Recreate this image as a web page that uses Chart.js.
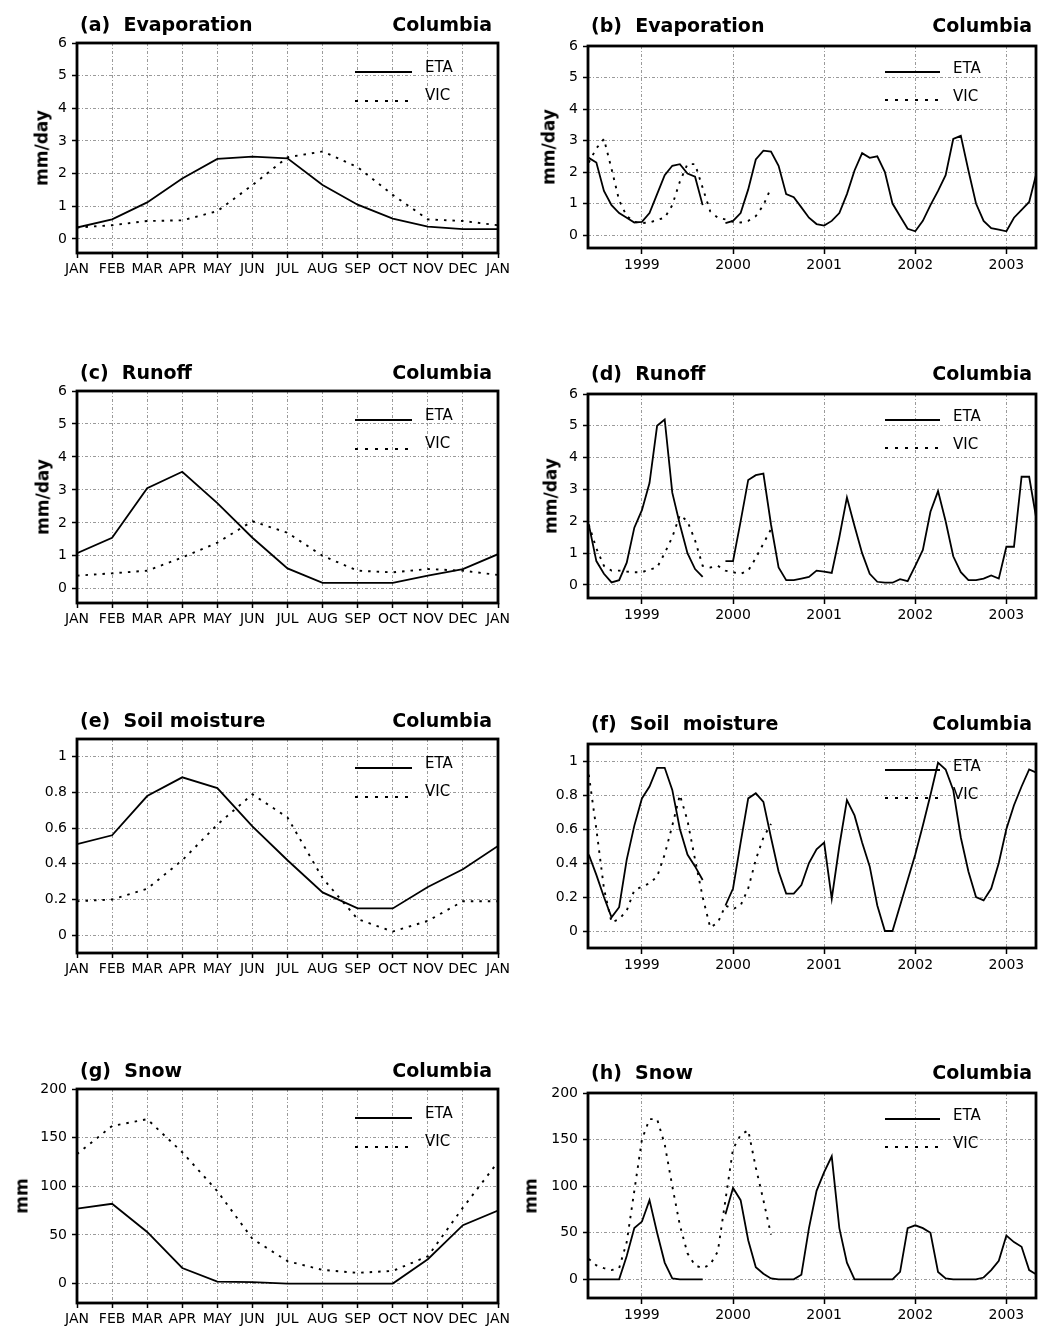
<!DOCTYPE html>
<html>
<head>
<meta charset="utf-8">
<script src="https://cdn.jsdelivr.net/npm/chart.js@4.4.1/dist/chart.umd.min.js"></script>
<style>
  html, body { margin: 0; padding: 0; background: #fff; overflow: hidden; }
  #page { position: relative; width: 1039px; height: 1330px; }
  canvas { position: absolute; }
  .ttl { position: absolute; font: bold 19px "DejaVu Sans", sans-serif; white-space: pre; line-height: 1; color: #000; }
  .unit { position: absolute; font: bold 17px "DejaVu Sans", sans-serif; white-space: pre; line-height: 1; color: #000;
          transform: translate(-50%, -50%) rotate(-90deg); }
  .leg { position: absolute; font: 15px "DejaVu Sans", sans-serif; line-height: 1; color: #000; transform: translateY(-50%); }
  .solid { position: absolute; height: 2px; background: #000; }
  .dots { position: absolute; height: 2px; background: repeating-linear-gradient(to right, #000 0 3px, transparent 3px 10px); }
</style>
</head>
<body>
<div id="page"></div>
<script>
// ---- axis labels ----
const months = ["JAN", "FEB", "MAR", "APR", "MAY", "JUN", "JUL", "AUG", "SEP", "OCT", "NOV", "DEC", "JAN"];
const monthPos = [0, 1, 2, 3, 4, 5, 6, 7, 8, 9, 10, 11, 12];
const years = ["1999", "2000", "2001", "2002", "2003"];
const yearPos = [0, 12, 24, 36, 48]; // months since Jan 1999

// monthly time series, Jun 1998 .. May 2003 (months since Jan 1999)
const seriesMonths = [
  -7, -6, -5, -4, -3, -2, -1, 0, 1, 2, 3, 4,
  5, 6, 7, 8, 9, 10, 11, 12, 13, 14, 15, 16,
  17, 18, 19, 20, 21, 22, 23, 24, 25, 26, 27, 28,
  29, 30, 31, 32, 33, 34, 35, 36, 37, 38, 39, 40,
  41, 42, 43, 44, 45, 46, 47, 48, 49, 50, 51, 52
];

const flowTicks = [0, 1, 2, 3, 4, 5, 6];
const flowLabels = ["0", "1", "2", "3", "4", "5", "6"];
const soilTicks = [0, 0.2, 0.4, 0.6, 0.8, 1];
const soilLabels = ["0", "0.2", "0.4", "0.6", "0.8", "1"];
const snowTicks = [0, 50, 100, 150, 200];
const snowLabels = ["0", "50", "100", "150", "200"];

// ---- mean annual cycle (JAN..JAN) ----
const evapEtaClim = [0.35, 0.6, 1.12, 1.85, 2.45, 2.52, 2.47, 1.65, 1.05, 0.62, 0.38, 0.3, 0.3];
const evapVicClim = [0.35, 0.42, 0.55, 0.57, 0.85, 1.65, 2.5, 2.68, 2.2, 1.35, 0.6, 0.55, 0.42];
const runoffEtaClim = [1.08, 1.55, 3.05, 3.55, 2.6, 1.55, 0.62, 0.18, 0.18, 0.18, 0.4, 0.6, 1.05];
const runoffVicClim = [0.4, 0.47, 0.55, 0.95, 1.4, 2.05, 1.7, 1.0, 0.55, 0.5, 0.6, 0.55, 0.42];
const soilEtaClim = [0.51, 0.56, 0.78, 0.885, 0.825, 0.61, 0.42, 0.24, 0.15, 0.15, 0.27, 0.37, 0.5];
const soilVicClim = [0.19, 0.2, 0.26, 0.42, 0.62, 0.79, 0.66, 0.32, 0.09, 0.02, 0.08, 0.19, 0.19];
const snowEtaClim = [77, 82, 53, 16, 2, 1.5, 0, 0, 0, 0, 25, 60, 75];
const snowVicClim = [133, 162, 169, 135, 95, 46, 23, 14, 11, 13, 28, 78, 125];

// ---- monthly series (ETA has a gap in autumn 1999, VIC stops mid 2000) ----
const evapEta = [
  2.45, 2.3, 1.4, 0.95, 0.7, 0.55, 0.4, 0.42, 0.7, 1.3, 1.9, 2.2,
  2.25, 1.95, 1.85, 0.95, null, null, 0.38, 0.45, 0.7, 1.45, 2.4, 2.68,
  2.65, 2.2, 1.3, 1.2, 0.88, 0.55, 0.35, 0.3, 0.45, 0.7, 1.3, 2.05,
  2.6, 2.45, 2.5, 2.0, 1.0, 0.6, 0.2, 0.12, 0.45, 0.95, 1.4, 1.9,
  3.05, 3.15, 2.05, 1.0, 0.45, 0.22, 0.17, 0.12, 0.55, 0.8, 1.05, 2.0
];
const evapVic = [
  2.3, 2.75, 3.05, 2.1, 1.1, 0.6, 0.42, 0.38, 0.4, 0.48, 0.55, 0.95,
  1.7, 2.25, 2.25, 1.5, 0.75, 0.55, 0.5, 0.42, 0.4, 0.45, 0.6, 0.95,
  1.5
];
const runoffEta = [
  1.9, 0.75, 0.35, 0.08, 0.15, 0.7, 1.8, 2.35, 3.2, 5.0, 5.2, 2.9,
  1.9, 1.0, 0.5, 0.25, null, null, 0.75, 0.75, 2.0, 3.3, 3.45, 3.5,
  1.9, 0.55, 0.15, 0.15, 0.2, 0.25, 0.45, 0.42, 0.38, 1.5, 2.75, 1.85,
  1.0, 0.35, 0.1, 0.07, 0.07, 0.18, 0.12, 0.6, 1.1, 2.3, 2.95, 2.0,
  0.9, 0.4, 0.15, 0.15, 0.2, 0.3, 0.2, 1.2, 1.2, 3.4, 3.4, 2.0
];
const runoffVic = [
  1.9, 1.15, 0.6, 0.45, 0.45, 0.42, 0.4, 0.4, 0.48, 0.55, 1.0, 1.5,
  2.2, 2.0, 1.4, 0.6, 0.55, 0.6, 0.45, 0.4, 0.35, 0.45, 0.85, 1.3,
  1.75
];
const soilEta = [
  0.45, 0.33, 0.2, 0.08, 0.14, 0.42, 0.62, 0.78, 0.85, 0.96, 0.96, 0.83,
  0.6, 0.45, 0.38, 0.3, null, null, 0.15, 0.25, 0.52, 0.78, 0.81, 0.76,
  0.55, 0.35, 0.22, 0.22, 0.27, 0.4, 0.48, 0.52, 0.19, 0.5, 0.77, 0.68,
  0.52, 0.38, 0.15, 0.0, 0.0, 0.15, 0.3, 0.45, 0.62, 0.8, 0.99, 0.95,
  0.83, 0.55, 0.35, 0.2, 0.18, 0.25, 0.4, 0.6, 0.74, 0.85, 0.95, 0.93
];
const soilVic = [
  0.92, 0.6, 0.25, 0.05, 0.07, 0.12, 0.24, 0.26, 0.28, 0.32, 0.45, 0.62,
  0.8, 0.65, 0.42, 0.2, 0.02, 0.05, 0.15, 0.13, 0.15, 0.25, 0.42, 0.55,
  0.63
];
const snowEta = [
  0, 0, 0, 0, 0, 25, 55, 62, 85, 50, 18, 1,
  0, 0, 0, 0, null, null, 70, 98, 85, 42, 13, 6,
  1, 0, 0, 0, 5, 55, 95, 115, 132, 55, 18, 0,
  0, 0, 0, 0, 0, 8, 55, 58, 55, 50, 8, 1,
  0, 0, 0, 0, 2, 10, 20, 47, 40, 35, 10, 5
];
const snowVic = [
  22, 15, 12, 10, 12, 40, 95, 150, 172, 172, 145, 100,
  58, 28, 15, 12, 16, 30, 85, 140, 155, 160, 120, 85,
  48
];

// ---- layout ----
const PAD_L = 75, PAD_T = 14, PAD_R = 22, PAD_B = 40;
const tickFont = { family: "DejaVu Sans", size: 14 };

const left = { xs: monthPos, xMin: 0, xMax: 12, xTicks: monthPos, xLabels: months, tickLen: 5 };
const right = { xs: seriesMonths, xMin: -7.1, xMax: 51.9, xTicks: yearPos, xLabels: years, tickLen: 6 };

const panels = [
  { col: left,  title: "(a)  Evaporation", unit: "mm/day", unitX: 42,  L: 77,  R: 498,  T: 43,   B: 253,  yMin: -0.43, yMax: 6,   yTicks: flowTicks, yLabels: flowLabels, eta: evapEtaClim,   vic: evapVicClim },
  { col: right, title: "(b)  Evaporation", unit: "mm/day", unitX: 549, L: 588, R: 1036, T: 46,   B: 248,  yMin: -0.41, yMax: 6,   yTicks: flowTicks, yLabels: flowLabels, eta: evapEta,       vic: evapVic },
  { col: left,  title: "(c)  Runoff",      unit: "mm/day", unitX: 43,  L: 77,  R: 498,  T: 391,  B: 603,  yMin: -0.43, yMax: 6,   yTicks: flowTicks, yLabels: flowLabels, eta: runoffEtaClim, vic: runoffVicClim },
  { col: right, title: "(d)  Runoff",      unit: "mm/day", unitX: 551, L: 588, R: 1036, T: 394,  B: 598,  yMin: -0.41, yMax: 6,   yTicks: flowTicks, yLabels: flowLabels, eta: runoffEta,     vic: runoffVic },
  { col: left,  title: "(e)  Soil moisture", unit: "",     unitX: 0,   L: 77,  R: 498,  T: 739,  B: 953,  yMin: -0.1,  yMax: 1.1, yTicks: soilTicks, yLabels: soilLabels, eta: soilEtaClim,   vic: soilVicClim },
  { col: right, title: "(f)  Soil  moisture", unit: "",    unitX: 0,   L: 588, R: 1036, T: 744,  B: 948,  yMin: -0.1,  yMax: 1.1, yTicks: soilTicks, yLabels: soilLabels, eta: soilEta,       vic: soilVic },
  { col: left,  title: "(g)  Snow",        unit: "mm",     unitX: 22,  L: 77,  R: 498,  T: 1089, B: 1303, yMin: -20,   yMax: 200, yTicks: snowTicks, yLabels: snowLabels, eta: snowEtaClim,   vic: snowVicClim },
  { col: right, title: "(h)  Snow",        unit: "mm",     unitX: 531, L: 588, R: 1036, T: 1093, B: 1298, yMin: -20,   yMax: 200, yTicks: snowTicks, yLabels: snowLabels, eta: snowEta,       vic: snowVic }
];

// thick frame round the plot area
const framePlugin = {
  id: "frame",
  afterDraw(chart) {
    const { ctx, chartArea: a } = chart;
    ctx.save();
    ctx.strokeStyle = "#000";
    ctx.lineWidth = 2.8;
    ctx.strokeRect(a.left, a.top, a.right - a.left, a.bottom - a.top);
    ctx.restore();
  }
};

const page = document.getElementById("page");

function addDiv(cls, text, css) {
  const d = document.createElement("div");
  d.className = cls;
  if (text) d.textContent = text;
  Object.assign(d.style, css);
  page.appendChild(d);
  return d;
}

function toPoints(xs, ys) {
  return ys.map((y, i) => ({ x: xs[i], y: y }));
}

function gridOpts(tickLen) {
  return { color: "#9a9a9a", lineWidth: 1, tickLength: tickLen, tickColor: "#000", tickWidth: 1.5, tickBorderDash: [] };
}

panels.forEach((p) => {
  const col = p.col;
  const isLeft = col === left;
  const W = p.R - p.L + PAD_L + PAD_R;
  const H = p.B - p.T + PAD_T + PAD_B;
  const canvas = document.createElement("canvas");
  canvas.width = W;
  canvas.height = H;
  canvas.style.left = (p.L - PAD_L) + "px";
  canvas.style.top = (p.T - PAD_T) + "px";
  canvas.style.width = W + "px";
  canvas.style.height = H + "px";
  page.appendChild(canvas);

  new Chart(canvas, {
    type: "line",
    data: {
      datasets: [
        { label: "ETA", data: toPoints(col.xs, p.eta), borderColor: "#000", borderWidth: 1.8, pointRadius: 0, tension: 0, spanGaps: false },
        { label: "VIC", data: toPoints(col.xs, p.vic), borderColor: "#000", borderWidth: 1.9, borderDash: [2.5, 6], pointRadius: 0, tension: 0, spanGaps: false }
      ]
    },
    options: {
      responsive: false,
      animation: false,
      devicePixelRatio: 1,
      layout: { padding: { left: 0, top: PAD_T, right: PAD_R, bottom: 0 } },
      plugins: { legend: { display: false }, tooltip: { enabled: false } },
      scales: {
        x: {
          type: "linear",
          min: col.xMin,
          max: col.xMax,
          afterBuildTicks: (s) => { s.ticks = col.xTicks.map((v) => ({ value: v })); },
          afterFit: (s) => { s.height = PAD_B; s.paddingLeft = 0; s.paddingRight = 0; },
          ticks: { callback: (v, i) => col.xLabels[i], autoSkip: false, maxRotation: 0, padding: 3, color: "#000", font: tickFont },
          grid: gridOpts(col.tickLen),
          border: { display: false, dash: [3, 2, 1, 2] }
        },
        y: {
          min: p.yMin,
          max: p.yMax,
          afterBuildTicks: (s) => { s.ticks = p.yTicks.map((v) => ({ value: v })); },
          afterFit: (s) => { s.width = PAD_L; s.paddingTop = 0; s.paddingBottom = 0; },
          ticks: { callback: (v, i) => p.yLabels[i], autoSkip: false, padding: 5, color: "#000", font: tickFont },
          grid: gridOpts(5),
          border: { display: false, dash: [3, 2, 1, 2] }
        }
      }
    },
    plugins: [framePlugin]
  });

  // panel title and region name
  const ty = p.T - (isLeft ? 19 : 21);
  addDiv("ttl", p.title, { left: (isLeft ? 80 : 591) + "px", top: ty + "px", transform: "translateY(-50%)" });
  addDiv("ttl", "Columbia", { left: (isLeft ? 492 : 1032) + "px", top: ty + "px", transform: "translate(-100%, -50%)" });

  if (p.unit) {
    addDiv("unit", p.unit, { left: p.unitX + "px", top: ((p.T + p.B) / 2) + "px" });
  }

  // legend inside the frame
  const lx1 = isLeft ? p.R - 143 : p.R - 151;
  const lx2 = isLeft ? p.R - 86 : p.R - 96;
  const tx = isLeft ? p.R - 73 : p.R - 83;
  const rows = isLeft ? [[29, 24], [58, 52]] : [[26, 22], [54, 50]];
  addDiv("solid", "", { left: lx1 + "px", top: (p.T + rows[0][0] - 1) + "px", width: (lx2 - lx1) + "px" });
  addDiv("leg", "ETA", { left: tx + "px", top: (p.T + rows[0][1]) + "px" });
  addDiv("dots", "", { left: lx1 + "px", top: (p.T + rows[1][0] - 1) + "px", width: (lx2 - lx1) + "px" });
  addDiv("leg", "VIC", { left: tx + "px", top: (p.T + rows[1][1]) + "px" });
});
</script>
</body>
</html>
